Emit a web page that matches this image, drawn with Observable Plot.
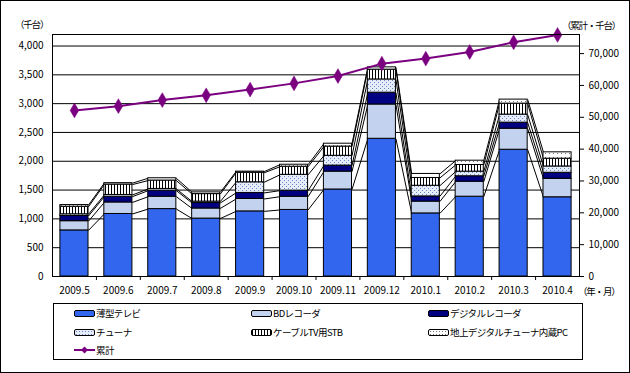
<!DOCTYPE html>
<html>
<head>
<meta charset="utf-8">
<script src="https://cdn.jsdelivr.net/npm/d3@7"></script>
<script src="https://cdn.jsdelivr.net/npm/@observablehq/plot@0.6"></script>
<style>
  html, body { margin: 0; padding: 0; background: #fff; }
  #wrap { position: relative; width: 630px; height: 373px; overflow: hidden; font-family: "Noto Sans CJK JP", sans-serif; font-size: 10px; color: #000; }
  #border { position: absolute; left: 0; top: 0; width: 630px; height: 373px; box-sizing: border-box; border: 1px solid #000; pointer-events: none; }
  #chart { position: absolute; left: 0; top: 0; }
  .lbl { position: absolute; white-space: nowrap; line-height: 12px; font-size: 9.5px; letter-spacing: -1.2px; }
  #legend { position: absolute; left: 53px; top: 303px; width: 530px; height: 57px; box-sizing: border-box; border: 1px solid #000; }
  .item { position: absolute; display: flex; align-items: center; white-space: nowrap; line-height: 12px; font-size: 9.5px; letter-spacing: -0.6px; }
  .sw { width: 19px; height: 5px; border: 1px solid #000; border-radius: 2px; margin-right: 1px; }
</style>
</head>
<body>
<div id="wrap">
  <div id="chart"></div>
  <span class="lbl" style="left:15px;top:18px;">（千台）</span>
  <span class="lbl" style="left:562px;top:19px;">（累計・千台）</span>
  <span class="lbl" style="left:578px;top:285px;">（年・月）</span>
  <div id="legend"></div>
  <div id="border"></div>
</div>
<script>
const months = ["2009.5","2009.6","2009.7","2009.8","2009.9","2009.10","2009.11","2009.12","2010.1","2010.2","2010.3","2010.4"];
const tv     = [800, 1085, 1170, 1005, 1130, 1155, 1510, 2390, 1095, 1385, 2200, 1375];
const bd     = [160,  200,  215,  175,  215,  230,  310,  595,  205,  260,  365,  320];
const dr     = [ 90,  100,  105,   95,  105,  105,  105,  205,   90,   95,  105,  105];
const tuner  = [ 30,   30,   30,   25,  185,  275,  170,  230,  185,   80,  140,  110];
const stb    = [130,  180,  145,  130,  165,  140,  160,  170,  135,  115,  190,  135];
const pc     = [ 30,   25,   40,   30,   20,   35,   50,   40,   70,   75,   70,  110];
const cumulative = [52150, 53500, 55400, 56900, 58700, 60650, 62950, 66850, 68430, 70500, 73560, 75860];
const seriesNames = ["薄型テレビ","BDレコーダ","デジタルレコーダ","チューナ","ケーブルTV用STB","地上デジタルチューナ内蔵PC"];
const leftTicks = [0,500,1000,1500,2000,2500,3000,3500,4000];
const rightTicks = [0,10000,20000,30000,40000,50000,60000,70000];

const seriesValues = [tv, bd, dr, tuner, stb, pc];
const fills = ["#3366ee", "#c3d2ee", "#000080", "url(#pTuner)", "url(#pStb)", "url(#pPc)"];
const half = 0.32;
const LMAX = 4200, RMAX = 76000, k = LMAX / RMAX;

// stacked segments
const segs = [];
const tops = seriesValues.map(() => []);
months.forEach((m, i) => {
  let acc = 0;
  seriesValues.forEach((arr, s) => {
    segs.push({i, s, y1: acc, y2: acc + arr[i]});
    acc += arr[i];
    tops[s][i] = acc;
  });
});
const links = [];
tops.forEach((t, s) => {
  for (let i = 0; i < months.length - 1; i++) links.push({i, a: t[i], b: t[i + 1]});
});
const cum = cumulative.map((c, i) => ({i, v: c * k}));

const plot = Plot.plot({
  width: 630, height: 300,
  marginLeft: 52, marginRight: 51, marginTop: 34, marginBottom: 24,
  style: {fontFamily: '"Noto Sans CJK JP", sans-serif', fontSize: "10px", color: "#000", background: "transparent"},
  x: {domain: [-0.5, 11.5]},
  y: {domain: [0, LMAX]},
  marks: [
    Plot.ruleY(leftTicks.filter(d => d > 0), {stroke: "#000", strokeWidth: 1}),
    Plot.link(links, {x1: d => d.i + half, y1: "a", x2: d => d.i + 1 - half, y2: "b", stroke: "#000", strokeWidth: 1}),
    Plot.rect(segs, {x1: d => d.i - half, x2: d => d.i + half, y1: "y1", y2: "y2", fill: d => fills[d.s], stroke: "#000", strokeWidth: 1}),
    Plot.line(cum, {x: "i", y: "v", stroke: "#7a0080", strokeWidth: 2}),
    Plot.dot(cum, {x: "i", y: "v", symbol: "diamond", r: 4.5, fill: "#7a0080", stroke: "#7a0080", strokeWidth: 0.5}),
    Plot.frame({stroke: "#000"}),
    Plot.axisY({ticks: leftTicks, tickFormat: d3.format(","), tickSize: 0, tickPadding: 9, label: null}),
    Plot.axisY({anchor: "right", ticks: rightTicks.map(v => v * k), tickFormat: d => d3.format(",")(Math.round(d / k / 1000) * 1000), tickSize: 4, tickPadding: 5, label: null}),
    Plot.axisX({ticks: d3.range(0, 12), tickFormat: i => months[i], tickSize: 0, tickPadding: 10, label: null}),
    Plot.axisX({ticks: d3.range(0.5, 11, 1), tickFormat: () => "", tickSize: 4, label: null})
  ]
});

// patterns
const svg = d3.select(plot);
const defs = svg.insert("defs", ":first-child");
const pt = defs.append("pattern").attr("id", "pTuner").attr("patternUnits", "userSpaceOnUse").attr("width", 4).attr("height", 4);
pt.append("rect").attr("width", 4).attr("height", 4).attr("fill", "#e6ecf9");
pt.append("rect").attr("x", 0).attr("y", 0).attr("width", 1).attr("height", 1).attr("fill", "#6a88cc");
pt.append("rect").attr("x", 2).attr("y", 2).attr("width", 1).attr("height", 1).attr("fill", "#6a88cc");
const ps = defs.append("pattern").attr("id", "pStb").attr("patternUnits", "userSpaceOnUse").attr("width", 3).attr("height", 4);
ps.append("rect").attr("width", 3).attr("height", 4).attr("fill", "#fff");
ps.append("rect").attr("x", 0).attr("width", 1).attr("height", 4).attr("fill", "#000");
const pp = defs.append("pattern").attr("id", "pPc").attr("patternUnits", "userSpaceOnUse").attr("width", 4).attr("height", 4);
pp.append("rect").attr("width", 4).attr("height", 4).attr("fill", "#fff");
pp.append("rect").attr("x", 1).attr("y", 1).attr("width", 1).attr("height", 1).attr("fill", "#777");

document.getElementById("chart").appendChild(plot);

// legend
const legendFills = [
  "background:#3366ee",
  "background:#c3d2ee",
  "background:#000080",
  "background-color:#e6ecf9;background-image:radial-gradient(#6a88cc 0.6px, transparent 0.8px);background-size:3px 3px",
  "background:repeating-linear-gradient(90deg,#000 0 1px,#fff 1px 3px)",
  "background-color:#fff;background-image:radial-gradient(#777 0.5px, transparent 0.7px);background-size:3px 3px"
];
const colX = [20, 197, 374];
const rowY = [3, 22, 40];
const legend = document.getElementById("legend");
seriesNames.forEach((name, s) => {
  const it = document.createElement("div");
  it.className = "item";
  it.style.left = colX[s % 3] + "px";
  it.style.top = rowY[Math.floor(s / 3)] + "px";
  it.innerHTML = `<span class="sw" style="${legendFills[s]}"></span><span>${name}</span>`;
  legend.appendChild(it);
});
const li = document.createElement("div");
li.className = "item";
li.style.left = colX[0] + "px";
li.style.top = rowY[2] + "px";
li.innerHTML = `<svg width="21" height="10" style="margin-right:1px"><line x1="0" y1="5" x2="21" y2="5" stroke="#7a0080" stroke-width="2"/><path d="M10.5,1.5 L14,5 L10.5,8.5 L7,5 Z" fill="#7a0080"/></svg><span>累計</span>`;
legend.appendChild(li);
</script>
</body>
</html>
